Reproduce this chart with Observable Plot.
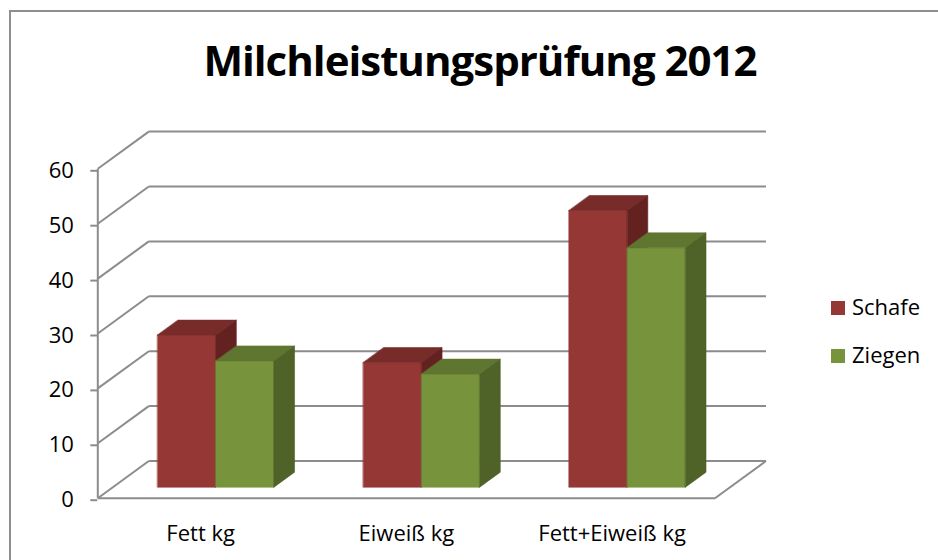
<!DOCTYPE html>
<html>
<head>
<meta charset="utf-8">
<script src="https://cdn.jsdelivr.net/npm/d3@7"></script>
<script src="https://cdn.jsdelivr.net/npm/@observablehq/plot@0.6"></script>
<style>
  html, body { margin: 0; padding: 0; background: #fff; }
  #wrap { position: relative; width: 938px; height: 560px; overflow: hidden; font-family: "Open Sans", sans-serif; }
  #frame { position: absolute; left: 9px; top: 10px; width: 960px; height: 600px; border: 2px solid #8e8e8e; box-sizing: border-box; }
  #title { position: absolute; left: 0; width: 960px; top: 39px; text-align: center; font-weight: 700; font-size: 42px; line-height: 42px; color: #000; letter-spacing: -1px; }
  #chart { position: absolute; left: 0; top: 112px; }
  .leg { position: absolute; left: 831px; font-size: 22px; line-height: 22px; color: #000; }
  .leg span.sw { position: absolute; left: 0; top: 4px; width: 14px; height: 14px; }
  .leg span.lb { position: absolute; left: 21px; top: -2px; white-space: nowrap; }
</style>
</head>
<body>
<div id="wrap">
  <div id="frame"></div>
  <div id="title">Milchleistungsprüfung 2012</div>
  <div id="chart"></div>
  <div id="legend"></div>
</div>
<script>
// ---- data ----
const categories = ["Fett kg", "Eiweiß kg", "Fett+Eiweiß kg"];
const seriesNames = ["Schafe", "Ziegen"];
const schafe = [27.7, 22.7, 50.4];
const ziegen = [23.0, 20.6, 43.6];
const yTicks = [0, 10, 20, 30, 40, 50, 60];
const title = "Milchleistungsprüfung 2012";

// ---- styles ----
const colors = {
  Schafe: {front: "#953735", top: "#772c2a", side: "#632220"},
  Ziegen: {front: "#77933c", top: "#5f7630", side: "#4f6228"}
};
const gridColor = "#8c8c8c";

// ---- 3D oblique geometry (in data units) ----
const W = 938, H = 448;
const mL = 97.3, mR = 223.5, mT = 56.3, mB = 62.3;
const xPerPx = categories.length / (W - mL - mR);
const yPerPx = 60 / (H - mT - mB);
const DX = 51 * xPerPx;    // full depth, horizontal
const DY = 37.2 * yPerPx;  // full depth, vertical
const d0 = 0.296, d1 = 0.699; // bar front/back depth
const bw = 0.283;             // bar width (category units)

const P = (x, v, d) => ({x: x + d * DX, y: v + d * DY});

// bars polygons
const verts = [];
let pid = 0;
categories.forEach((c, i) => {
  const center = i + 0.5;
  [[seriesNames[0], schafe[i], center - bw], [seriesNames[1], ziegen[i], center]].forEach(([s, v, x0]) => {
    const x1 = x0 + bw;
    const col = colors[s];
    const faces = [
      [col.front, [P(x0,0,d0), P(x1,0,d0), P(x1,v,d0), P(x0,v,d0)]],
      [col.top,   [P(x0,v,d0), P(x1,v,d0), P(x1,v,d1), P(x0,v,d1)]],
      [col.side,  [P(x1,0,d0), P(x1,0,d1), P(x1,v,d1), P(x1,v,d0)]]
    ];
    faces.forEach(([fc, pts]) => {
      pid++;
      pts.forEach(p => verts.push({id: pid, c: fc, x: p.x, y: p.y}));
    });
  });
});

// wall lines
const links = [];
yTicks.forEach(v => {
  links.push({x1: DX, y1: v + DY, x2: categories.length + DX, y2: v + DY}); // back wall gridline
  links.push({x1: 0, y1: v, x2: DX, y2: v + DY});                         // side wall diagonal
});
links.push({x1: 0, y1: 0, x2: 0, y2: 60});                                 // front axis
links.push({x1: 0, y1: 0, x2: categories.length, y2: 0});                  // floor front edge
links.push({x1: categories.length, y1: 0, x2: categories.length + DX, y2: DY}); // floor right edge

const plot = Plot.plot({
  width: W, height: H,
  marginLeft: mL, marginRight: mR, marginTop: mT, marginBottom: mB,
  style: {fontFamily: "Open Sans, sans-serif", fontSize: "22px", color: "#000", background: "transparent", overflow: "visible"},
  x: {domain: [0, categories.length]},
  y: {domain: [0, 60]},
  color: {type: "identity"},
  marks: [
    Plot.link(links, {x1: "x1", y1: "y1", x2: "x2", y2: "y2", stroke: gridColor, strokeWidth: 2}),
    Plot.line(verts, {x: "x", y: "y", z: "id", fill: "c", stroke: "c", strokeWidth: 0.6, strokeLinejoin: "round", curve: "linear-closed"}),
    Plot.axisY({ticks: yTicks, tickSize: 7, tickPadding: 17, stroke: gridColor, strokeWidth: 2, fill: "#000", dy: 2, label: null}),
    Plot.axisX({ticks: categories.map((c, i) => i + 0.5), tickFormat: t => categories[Math.floor(t)], tickSize: 0, tickPadding: 27, fill: "#000", label: null})
  ]
});
document.getElementById("chart").appendChild(plot);

// legend
const legend = document.getElementById("legend");
seriesNames.forEach((s, i) => {
  const row = document.createElement("div");
  row.className = "leg";
  row.style.top = (297 + i * 48) + "px";
  row.innerHTML = `<span class="sw" style="background:${colors[s].front}"></span><span class="lb">${s}</span>`;
  legend.appendChild(row);
});
</script>
</body>
</html>
